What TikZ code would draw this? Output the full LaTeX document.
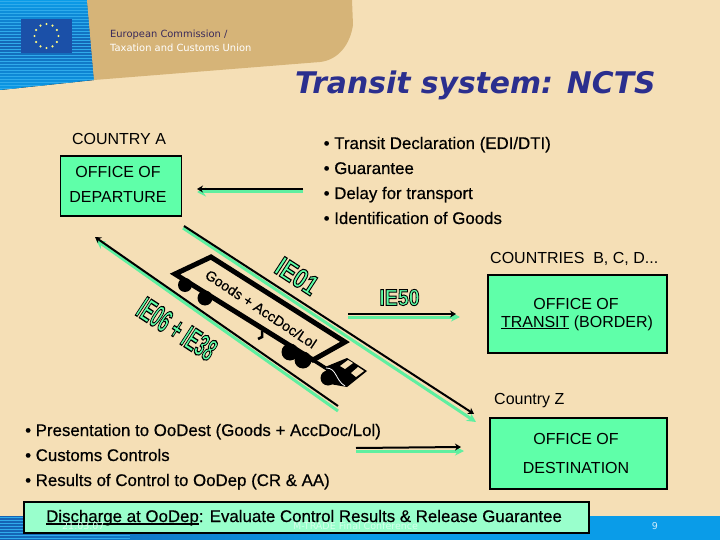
\documentclass[tikz,border=0pt]{standalone}
\usepackage{fontspec}
\setmainfont{Liberation Sans}
\newfontfamily\titlefont{DejaVu Sans}
\newfontfamily\iefont[FakeBold=4]{Liberation Sans Bold}
\newfontfamily\heavyfont[FakeBold=0.5]{Liberation Sans}
\usetikzlibrary{arrows.meta,shapes.geometric}
\definecolor{bgc}{HTML}{F5DFB6}
\definecolor{tanc}{HTML}{D6B478}
\definecolor{boxg}{HTML}{5FFFA9}
\definecolor{boxl}{HTML}{99FFCC}
\definecolor{arrg}{HTML}{5FEFA0}
\definecolor{bluea}{HTML}{1563B4}
\definecolor{blueb}{HTML}{0A9CE8}
\definecolor{flagc}{HTML}{1B50A8}
\definecolor{titlec}{HTML}{2B2F8E}
\definecolor{headc}{HTML}{3A2A5A}
\newcommand{\fs}[1]{\fontsize{#1}{#1}\selectfont}
\newcommand{\ielab}[2]{\fs{#1}\special{pdf:bcolor [0.37 1 0.66] [0 0 0]}\iefont #2\special{pdf:ecolor}}
\tikzset{
  office/.style={draw=black,line width=1.5pt,fill=boxg,inner sep=0pt},
  txt/.style={font=\fs{16},inner sep=0pt,text=black},
  item/.style={inner sep=0pt,text=black,anchor=base west,font=\heavyfont\fs{16.85}},
  garrow/.style={draw=arrg,line width=3pt,-{Stealth[length=9pt,width=9pt]}},
  karrow/.style={draw=black,line width=2pt,-{Stealth[length=6pt,width=7pt]}},
  trailer/.style={draw=black,line width=5pt,line join=miter},
  wheel/.style={fill=black},
  ielabel/.style={inner sep=0pt,transform shape},
  foot/.style={font=\titlefont\fs{9.5},inner sep=0pt}
}
\begin{document}
\begin{tikzpicture}[x=1pt,y=-1pt]
\useasboundingbox (0,0) rectangle (720,540);
\fill[bgc] (0,0) rectangle (720,540);
% bottom band
\fill[left color=bluea,right color=blueb,middle color=blueb] (0,516) rectangle (720,540);
\begin{scope}
\clip (0,516) rectangle (130,540);
\foreach \y in {517,520,...,540} \draw[blueb!85!white,line width=.5pt] (0,\y) -- (130,\y);
\end{scope}
% top left band
\begin{scope}
\clip (0,0) -- (87,0) -- (94,80) -- (0,90) -- cycle;
\fill[bottom color=blueb,top color=blueb,middle color=bluea] (0,0) rectangle (94,90);
\foreach \y in {1,4,...,90} \draw[blueb!85!white,line width=.5pt] (0,\y) -- (94,\y);
\end{scope}
\fill[tanc] (87,0) -- (94,80) -- (320,62) .. controls (338,60) and (350,45) .. (353,25) -- (352,0) -- cycle;
\fill[flagc] (21,19) rectangle (72,53);
\foreach \a in {0,30,...,330} \fill[yellow!50!white] ({46.5+12*cos(\a)},{36+12*sin(\a)}) circle (1.2pt);
\node[anchor=west,inner sep=0pt,text=headc,font=\titlefont\fs{9.9}] (h1) at (110,35) {European Commission /};
\node[anchor=west,inner sep=0pt,text=white,font=\titlefont\fs{9.9}] (h2) at (110,47.5) {Taxation and Customs Union};
\node[anchor=west,inner sep=0pt,text=titlec,font=\titlefont\bfseries\itshape\fs{29.8}] (title) at (295,85.5) {Transit system: NCTS};

% offices
\node[txt] (ca) at (119,139) {COUNTRY A};
\node[office,minimum width=121pt,minimum height=60pt] (dep) at (121,186) {};
\node[txt] (dep1) at (118,172) {OFFICE OF};
\node[txt] (dep2) at (118,197) {DEPARTURE};
\node[txt,anchor=west] (cb) at (490,259) {COUNTRIES\ \ B, C, D...};
\node[office,minimum width=179pt,minimum height=78pt] (tra) at (577.5,314) {};
\node[txt] (tra1) at (576,304) {OFFICE OF};
\node[txt] (tra2) at (577,323) {\underline{TRANSIT} (BORDER)};
\node[txt,anchor=west] (cz) at (494,401) {Country Z};
\node[office,minimum width=177pt,minimum height=71pt] (des) at (578.5,453.5) {};
\node[txt] (des1) at (576,439) {OFFICE OF};
\node[txt] (des2) at (576,468) {DESTINATION};

% lists
\node[item] (r1) at (323.5,149) {• Transit Declaration (EDI/DTI)};
\node[item] (r2) at (323.5,174) {• Guarantee};
\node[item] (r3) at (323.5,199) {• Delay for transport};
\node[item] (r4) at (323.5,224) {• Identification of Goods};
\node[item] (l1) at (25,436) {• Presentation to OoDest (Goods + AccDoc/Lol)};
\node[item] (l2) at (25,461) {• Customs Controls};
\node[item] (l3) at (25,486) {• Results of Control to OoDep (CR \& AA)};

% connector end points
\coordinate (a1g) at (303,192); \coordinate (a1gt) at (197,192);
\coordinate (a1k) at (303,189); \coordinate (a1kt) at (197,189);
\coordinate (a2g) at (348,317); \coordinate (a2gt) at (460,317);
\coordinate (a2k) at (348,314); \coordinate (a2kt) at (456,314);
\coordinate (a3g) at (356,451); \coordinate (a3gt) at (464,451);
\coordinate (a3k) at (356,448); \coordinate (a3kt) at (461,447);
\coordinate (d1g) at (183,228); \coordinate (d1gt) at (476,422);
\coordinate (d1k) at (184,226); \coordinate (d1kt) at (474,414);
\coordinate (d2g) at (338,411); \coordinate (d2gt) at (96,240);
\coordinate (d2k) at (338,406); \coordinate (d2kt) at (95,237);
\foreach \n in {a1,a2,a3,d1,d2} {
  \draw[garrow] (\n g) -- (\n gt);
  \draw[karrow] (\n k) -- (\n kt);
}

% truck
\coordinate (ta) at (211,257); \coordinate (tb) at (345,342);
\coordinate (tc) at (313,360); \coordinate (td) at (175,274);
\fill[wheel] (185,285) circle (7);
\fill[wheel] (205,298) circle (7.5);
\fill[wheel] (290,352) circle (8.5);
\fill[wheel] (303,360) circle (8.5);
\draw[trailer] (ta) -- (tb) -- (tc) -- (td) -- cycle;
\draw[black,line width=2.5pt] (262,331) -- (262,337) -- (258,339);
\draw[black,line width=3.5pt] (tc) -- (335,374);
\fill[black] (325,367) -- (347,358) -- (367,371) -- (347,387) -- (330,384) -- cycle;
\fill[black] (328,378) circle (7.5);
\fill[bgc] (340,366) -- (348,360) -- (353,363) -- (345,369) -- cycle;
\fill[bgc] (351,373) -- (358,367) -- (364,371) -- (356,377) -- cycle;
\draw[white,line width=.8pt] (326,368) .. controls (337,368) and (335,380) .. (345,386);
\node[inner sep=0pt,rotate=-33.5,font=\heavyfont\fs{14.2},text=black] (goods) at (261,309) {Goods + AccDoc/Lol};

% IE labels
\node[ielabel,rotate=-33,xscale=.78] (ie01) at (297,276) {\ielab{28}{IE01}};
\node[ielabel,xscale=.85] (ie50) at (399.5,297.5) {\ielab{23}{IE50}};
\node[ielabel,rotate=-33,xscale=.52] (ie06) at (177,329) {\ielab{32}{IE06 + IE38}};

% bottom box
\node[draw=black,line width=2pt,fill=boxl,minimum width=565pt,minimum height=31pt,inner sep=0pt] (dis) at (306.5,517.5) {};
\node[inner sep=0pt,text=black,anchor=base west,font=\heavyfont\fs{16.85}] (dis1) at (46,522) {Discharge at OoDep: Evaluate Control Results \& Release Guarantee};
\coordinate (u1) at (46,524); \coordinate (u2) at (199,524);
\draw[black,line width=1.8pt] (u1) -- (u2);
\node[foot,anchor=west,text=white!60!boxl] (f1) at (62,526) {21.03.07};
\node[foot,anchor=west,text=white!60!boxl] (f2) at (293,526) {M-TRADE Final Conference};
\node[foot,text=white!80!blueb] (f3) at (655,526) {9};
\end{tikzpicture}
\end{document}
